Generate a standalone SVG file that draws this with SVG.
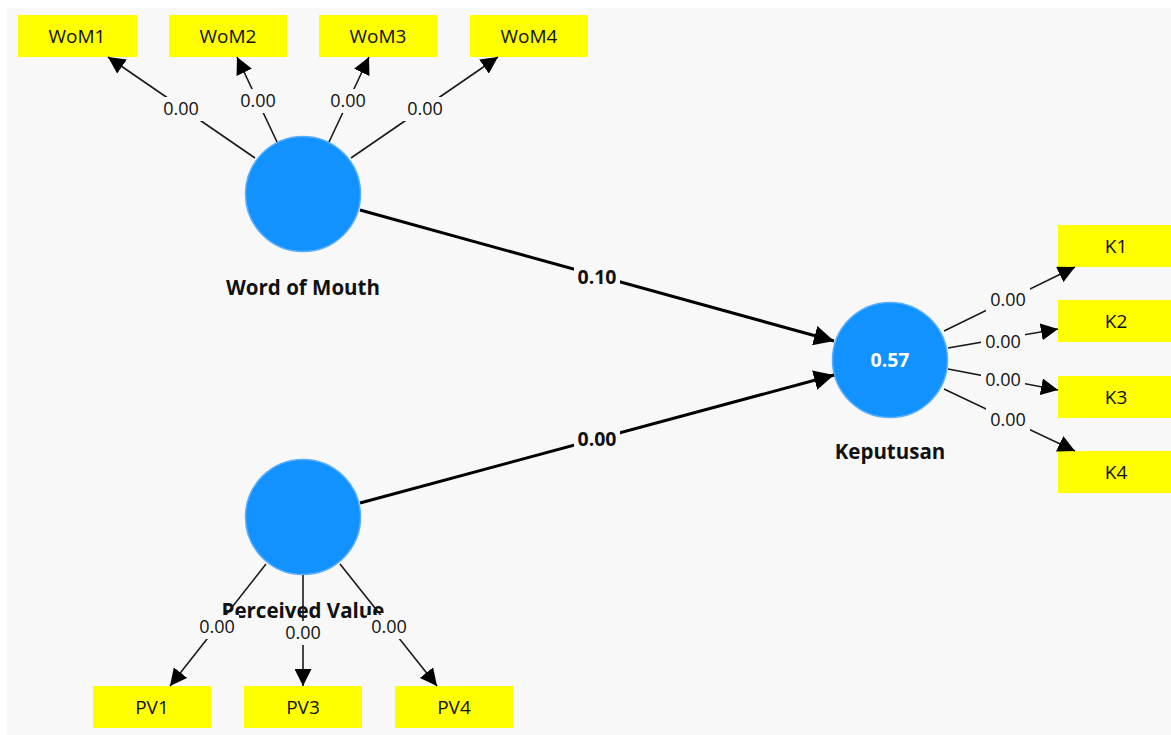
<svg xmlns="http://www.w3.org/2000/svg" width="1171" height="735" viewBox="0 0 1171 735">
<defs>
<marker id="ahs" viewBox="0 0 10 10" refX="10" refY="5" markerWidth="17" markerHeight="17" markerUnits="userSpaceOnUse" orient="auto">
<path d="M0,0 L10,5 L0,10 z" fill="#000"/>
</marker>
<marker id="ahb" viewBox="0 0 10 10" refX="10" refY="5" markerWidth="20" markerHeight="20" markerUnits="userSpaceOnUse" orient="auto">
<path d="M0,0 L10,5 L0,10 z" fill="#000"/>
</marker>
</defs>
<style>
.ind rect{fill:#ffff00;}
.ind text{font-family:"Open Sans","Noto Sans",sans-serif;font-size:19px;fill:#111;text-anchor:middle;}
.lv circle{fill:#1192ff;stroke:#5aaeff;stroke-width:1.5;}
.lvname{font-family:"Open Sans","Noto Sans",sans-serif;font-size:20.5px;font-weight:bold;fill:#111;text-anchor:middle;}
.r2{font-family:"Open Sans","Noto Sans",sans-serif;font-size:19.5px;font-weight:bold;fill:#fff;text-anchor:middle;}
.thin{stroke:#1a1a1a;stroke-width:1.6;fill:none;marker-end:url(#ahs);}
.thick{stroke:#000;stroke-width:3;fill:none;marker-end:url(#ahb);}
.lbl{font-family:"Open Sans","Noto Sans",sans-serif;font-size:18px;fill:#111;text-anchor:middle;}
.lblb{font-family:"Open Sans","Noto Sans",sans-serif;font-size:19.5px;font-weight:bold;fill:#111;text-anchor:middle;}
.bg{fill:#f8f8f8;}
</style>
<rect x="7" y="8" width="1164" height="727" fill="#f8f8f8"/>

<g id="node-wom" class="lv">
<circle cx="303" cy="194" r="57.5"/>
<text class="lvname" x="303" y="295">Word of Mouth</text>
</g>
<g id="node-pv" class="lv">
<circle cx="303" cy="517" r="57.5"/>
<text class="lvname" x="303" y="618">Perceived Value</text>
</g>
<g id="node-kep" class="lv">
<circle cx="890" cy="360" r="57.5"/>
<text class="r2" x="890" y="367">0.57</text>
<text class="lvname" x="890" y="459">Keputusan</text>
</g>

<g id="node-wom1" class="ind"><rect x="18" y="15" width="119" height="42"/><text x="77" y="43">WoM1</text></g>
<g id="node-wom2" class="ind"><rect x="169" y="15" width="118" height="42"/><text x="228" y="43">WoM2</text></g>
<g id="node-wom3" class="ind"><rect x="319" y="15" width="118" height="42"/><text x="378" y="43">WoM3</text></g>
<g id="node-wom4" class="ind"><rect x="470" y="15" width="118" height="42"/><text x="529" y="43">WoM4</text></g>
<g id="node-k1" class="ind"><rect x="1058" y="225" width="113" height="42"/><text x="1116" y="253">K1</text></g>
<g id="node-k2" class="ind"><rect x="1058" y="300" width="113" height="42"/><text x="1116" y="328">K2</text></g>
<g id="node-k3" class="ind"><rect x="1058" y="376" width="113" height="42"/><text x="1116" y="404">K3</text></g>
<g id="node-k4" class="ind"><rect x="1058" y="451" width="113" height="42"/><text x="1116" y="479">K4</text></g>
<g id="node-pv1" class="ind"><rect x="93" y="686" width="118" height="42"/><text x="152" y="714">PV1</text></g>
<g id="node-pv3" class="ind"><rect x="244" y="686" width="118" height="42"/><text x="303" y="714">PV3</text></g>
<g id="node-pv4" class="ind"><rect x="395" y="686" width="118" height="42"/><text x="454" y="714">PV4</text></g>

<g id="connectors">
<line class="thin" x1="255" y1="158" x2="108" y2="57"/>
<line class="thin" x1="277" y1="142" x2="237" y2="57"/>
<line class="thin" x1="329" y1="142" x2="369" y2="57"/>
<line class="thin" x1="351" y1="158" x2="498" y2="57"/>
<line class="thin" x1="944" y1="331" x2="1075" y2="267"/>
<line class="thin" x1="948" y1="348" x2="1058" y2="329"/>
<line class="thin" x1="948" y1="369" x2="1058" y2="390"/>
<line class="thin" x1="944" y1="389" x2="1075" y2="451"/>
<line class="thin" x1="266" y1="564" x2="170" y2="686"/>
<line class="thin" x1="303" y1="575" x2="303" y2="686"/>
<line class="thin" x1="340" y1="564" x2="437" y2="686"/>
<line class="thick" x1="360" y1="210" x2="834" y2="341"/>
<line class="thick" x1="360" y1="503" x2="834" y2="375"/>

<rect class="bg" x="159" y="97" width="44" height="24"/><text class="lbl" x="181" y="115">0.00</text>
<rect class="bg" x="236" y="89" width="44" height="24"/><text class="lbl" x="258" y="107">0.00</text>
<rect class="bg" x="326" y="89" width="44" height="24"/><text class="lbl" x="348" y="107">0.00</text>
<rect class="bg" x="403" y="97" width="44" height="24"/><text class="lbl" x="425" y="115">0.00</text>
<rect class="bg" x="986" y="288" width="44" height="24"/><text class="lbl" x="1008" y="306">0.00</text>
<rect class="bg" x="981" y="330" width="44" height="24"/><text class="lbl" x="1003" y="348">0.00</text>
<rect class="bg" x="981" y="368" width="44" height="24"/><text class="lbl" x="1003" y="386">0.00</text>
<rect class="bg" x="986" y="408" width="44" height="24"/><text class="lbl" x="1008" y="426">0.00</text>
<rect class="bg" x="195" y="615" width="44" height="24"/><text class="lbl" x="217" y="633">0.00</text>
<rect class="bg" x="281" y="621" width="44" height="24"/><text class="lbl" x="303" y="639">0.00</text>
<rect class="bg" x="367" y="615" width="44" height="24"/><text class="lbl" x="389" y="633">0.00</text>
<rect class="bg" x="574" y="265" width="46" height="24"/><text class="lblb" x="597" y="284">0.10</text>
<rect class="bg" x="574" y="427" width="46" height="24"/><text class="lblb" x="597" y="446">0.00</text>
</g>
</svg>
